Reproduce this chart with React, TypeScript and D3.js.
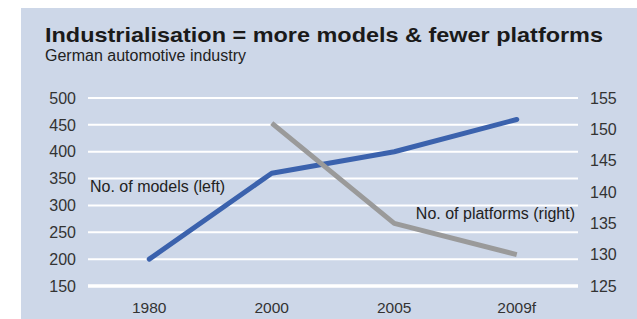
import { useRef, useEffect } from 'react';
import * as d3 from 'd3';

const YEARS = ["1980", "2000", "2005", "2009f"];
const MODELS = [200, 360, 400, 460];
const PLATFORM_YEARS = ["2000", "2005", "2009f"];
const PLATFORMS = [151, 135, 130];
const LEFT_TICKS = [150, 200, 250, 300, 350, 400, 450, 500];
const RIGHT_TICKS = [125, 130, 135, 140, 145, 150, 155];

const FONT = "'Liberation Sans', Arial, sans-serif";
const BG = "#cdd7e8";
const BLUE = "#3b62ad";
const GREY = "#9a9a9a";

export default function App() {
  const svgRef = useRef<SVGSVGElement>(null);

  useEffect(() => {
    const svg = d3.select(svgRef.current);
    svg.selectAll("*").remove();

    const W = 637, H = 319;
    const plot = { left: 88, right: 578, top: 98, bottom: 286 };

    svg.append("rect")
      .attr("x", 21).attr("y", 8)
      .attr("width", W - 21).attr("height", H - 8)
      .attr("fill", BG);

    // titles
    svg.append("text")
      .attr("x", 45).attr("y", 42)
      .attr("textLength", 558).attr("lengthAdjust", "spacingAndGlyphs")
      .style("font-family", FONT).style("font-size", "21px").style("font-weight", "bold")
      .attr("fill", "#1a1a1a")
      .text("Industrialisation = more models & fewer platforms");
    svg.append("text")
      .attr("x", 45).attr("y", 61)
      .style("font-family", FONT).style("font-size", "16px")
      .attr("fill", "#222")
      .text("German automotive industry");

    const x = d3.scalePoint()
      .domain(YEARS)
      .range([plot.left, plot.right])
      .padding(0.5);

    const yL = d3.scaleLinear().domain([150, 500]).range([plot.bottom, plot.top]);
    const yR = d3.scaleLinear().domain([125, 155]).range([plot.bottom, plot.top]);

    // Grid
    svg.append("g").selectAll("line")
      .data(LEFT_TICKS)
      .enter().append("line")
      .attr("x1", plot.left).attr("x2", plot.right)
      .attr("y1", d => yL(d)).attr("y2", d => yL(d))
      .attr("stroke", "#fff")
      .attr("stroke-width", d => d === 150 ? 3.5 : 2);

    // Left axis
    svg.append("g").selectAll("text")
      .data(LEFT_TICKS)
      .enter().append("text")
      .attr("x", 76).attr("y", d => yL(d))
      .attr("dy", "0.36em").attr("text-anchor", "end")
      .style("font-family", FONT).style("font-size", "16px")
      .attr("fill", "#333")
      .text(d => d);

    // Right axis
    svg.append("g").selectAll("text")
      .data(RIGHT_TICKS)
      .enter().append("text")
      .attr("x", 590).attr("y", d => yR(d))
      .attr("dy", "0.36em")
      .style("font-family", FONT).style("font-size", "16px")
      .attr("fill", "#333")
      .text(d => d);

    // X axis
    svg.append("g").selectAll("text")
      .data(YEARS)
      .enter().append("text")
      .attr("x", d => x(d)!).attr("y", 313)
      .attr("text-anchor", "middle")
      .style("font-family", FONT).style("font-size", "15.5px")
      .attr("fill", "#333")
      .text(d => d);

    const modelLine = d3.line<number>()
      .x((d, i) => x(YEARS[i])!)
      .y(d => yL(d));
    const platformLine = d3.line<number>()
      .x((d, i) => x(PLATFORM_YEARS[i])!)
      .y(d => yR(d));

    svg.append("path")
      .datum(MODELS)
      .attr("d", modelLine)
      .attr("fill", "none")
      .attr("stroke", BLUE)
      .attr("stroke-width", 5)
      .attr("stroke-linecap", "round")
      .attr("stroke-linejoin", "round");

    svg.append("path")
      .datum(PLATFORMS)
      .attr("d", platformLine)
      .attr("fill", "none")
      .attr("stroke", GREY)
      .attr("stroke-width", 5)
      .attr("stroke-linecap", "butt")
      .attr("stroke-linejoin", "round");

    // Series labels
    svg.append("text")
      .attr("x", 90).attr("y", 192)
      .style("font-family", FONT).style("font-size", "16px")
      .attr("fill", "#222")
      .text("No. of models (left)");
    svg.append("text")
      .attr("x", 575).attr("y", 219)
      .attr("text-anchor", "end")
      .style("font-family", FONT).style("font-size", "16px")
      .attr("fill", "#222")
      .text("No. of platforms (right)");
  }, []);

  return (
    <svg ref={svgRef} width={637} height={319}
      style={{ position: "absolute", left: 0, top: 0, display: "block" }} />
  );
}
